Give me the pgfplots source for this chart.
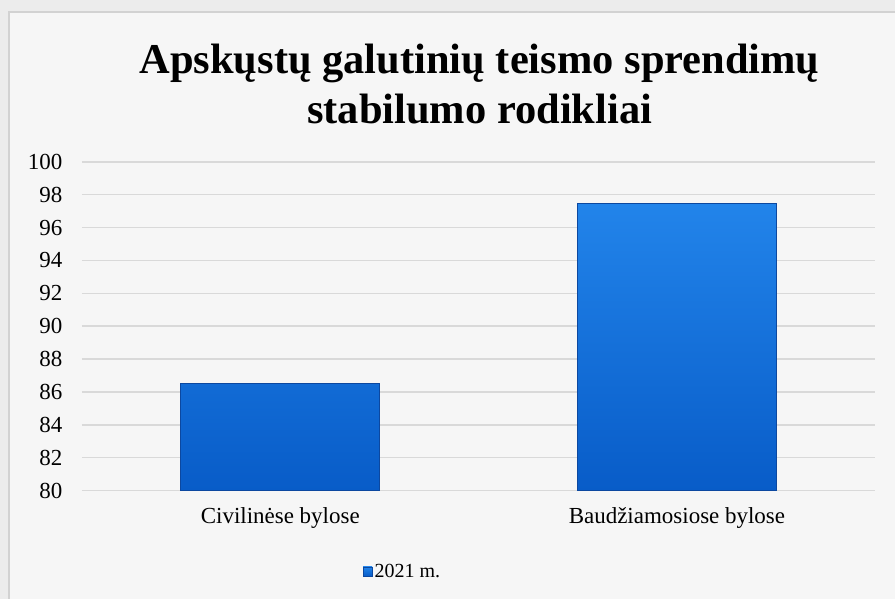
\documentclass[border=0pt]{standalone}
\usepackage{fontspec}
\setmainfont{Liberation Serif}
\usepackage{pgfplots}
\pgfplotsset{compat=1.18}

\definecolor{bgpaper}{RGB}{236,236,236}
\definecolor{gridgray}{RGB}{217,217,217}
\definecolor{framegray}{RGB}{210,210,210}
\definecolor{bartop}{RGB}{34,132,234}
\definecolor{barmid}{RGB}{20,116,226}
\definecolor{barbot}{RGB}{8,92,200}
\definecolor{baredge}{RGB}{12,72,160}

\begin{document}
\begin{tikzpicture}[x=1pt,y=1pt]
  % page background and chart frame
  \fill[bgpaper] (0,0) rectangle (896,-599);
  \fill[white,opacity=0.55] (9,-12) rectangle (896,-599);
  \draw[framegray, line width=1.5pt] (9,-599) -- (9,-12) -- (896,-12);

  % title
  \node[font=\fontsize{42.5}{50}\selectfont\bfseries, align=center, anchor=center]
    at (480,-84) {Apskųstų galutinių teismo sprendimų\\stabilumo rodikliai};

  \begin{axis}[
      at={(82pt,-491pt)}, anchor=south west,
      scale only axis,
      width=794pt, height=329pt,
      xmin=-0.5, xmax=1.5,
      ymin=80, ymax=100,
      ytick={80,82,...,100},
      xtick={0,1},
      xticklabels={Civilinėse bylose, Baudžiamosiose bylose},
      axis line style={draw=none},
      tick style={draw=none},
      ymajorgrids,
      grid style={gridgray, line width=1.5pt},
      tick label style={font=\fontsize{23}{26}\selectfont},
      yticklabel style={anchor=east, xshift=-16pt},
      xticklabel style={anchor=north, yshift=-9pt},
      /pgf/number format/assume math mode=true,
      ybar, bar width=199pt,
      legend style={at={(0.404,-0.246)}, anchor=center, draw=none, fill=none,
                    font=\fontsize{20}{24}\selectfont, inner sep=0pt},
      legend image code/.code={\fill[barmid,draw=baredge] (0pt,-4.5pt) rectangle (9pt,4.5pt);},
    ]
    \addplot[draw=baredge, line width=0.8pt, top color=bartop, middle color=barmid, bottom color=barbot]
      coordinates {(0,86.5) (1,97.45)};
    \addlegendentry{2021 m.}
  \end{axis}
\end{tikzpicture}
\end{document}
